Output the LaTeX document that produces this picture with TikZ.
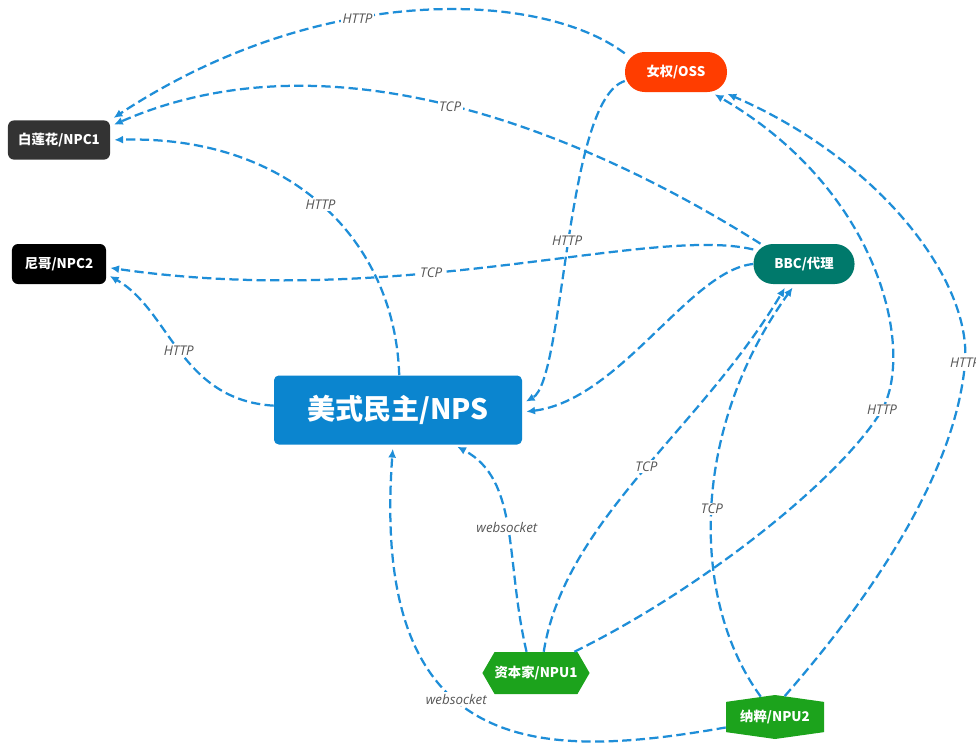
\documentclass[tikz,border=0pt]{standalone}
\usepackage{fontspec}
\newfontfamily\cjk{Noto Sans CJK SC}
\newfontfamily\lblfont{Open Sans}
\usetikzlibrary{arrows.meta,shapes.symbols}
\definecolor{linkblue}{RGB}{30,142,216}
\definecolor{ossred}{RGB}{255,61,0}
\definecolor{npcgray}{RGB}{51,51,51}
\definecolor{npsblue}{RGB}{11,133,207}
\definecolor{bbcteal}{RGB}{0,121,107}
\definecolor{npugreen}{RGB}{28,163,28}
\definecolor{lblgray}{RGB}{85,85,85}
\begin{document}
\begin{tikzpicture}[x=0.25mm, y=-0.25mm,
  box/.style={text=white, font=\cjk\bfseries\fontsize{9.5}{11}\selectfont, inner sep=0pt},
  pill/.style={box, rounded corners=4.9mm, minimum width=25.5mm, minimum height=10mm},
  npc/.style={box, rounded corners=1.5mm, minimum height=9.8mm},
  npu/.style={box, signal},
  link/.style={draw=linkblue, line width=1.6pt, dash pattern=on 2.3mm off 1.1mm, -{Latex[length=2.2mm,width=2mm]}, shorten >=1mm},
  lbl/.style={font=\lblfont\itshape\fontsize{9.5}{11}\selectfont, text=lblgray, fill=white, inner sep=1pt}]
\useasboundingbox (0,0) rectangle (976,746);
\fill[white] (0,0) rectangle (976,746);
\node[pill, fill=ossred] (oss) at (676,72) {女权/OSS};
\node[npc, fill=npcgray, minimum width=25.5mm] (npc1) at (59,140) {白莲花/NPC1};
\node[npc, fill=black, minimum width=23.5mm, minimum height=10mm] (npc2) at (59,264) {尼哥/NPC2};
\node[box, fill=npsblue, rounded corners=1.2mm, minimum width=62mm, minimum height=17.25mm, font=\cjk\bfseries\fontsize{20}{24}\selectfont] (nps) at (398,410) {美式民主/NPS};
\node[pill, fill=bbcteal, minimum width=25.25mm] (bbc) at (804,264) {BBC/代理};
\node[npu, fill=npugreen, signal to=east and west, signal pointer angle=120, minimum width=25.75mm, minimum height=10.5mm] (npu1) at (536,673) {资本家/NPU1};
\node[npu, fill=npugreen, signal to=north and south, signal pointer angle=164, minimum width=24.5mm, minimum height=10mm] (npu2) at (775,717) {纳粹/NPU2};
\draw[link] (oss.160) .. controls (540,-10) and (320,-18) .. node[lbl, pos=0.6] {HTTP} (npc1.north east);
\draw[link] (bbc.155) .. controls (580,130) and (330,30) .. node[lbl, pos=0.5] {TCP} (npc1.15);
\draw[link] (nps.88) .. controls (395,240) and (290,135) .. node[lbl, pos=0.5] {HTTP} (npc1.east);
\draw[link] (bbc.164) .. controls (650,225) and (400,310) .. node[lbl, pos=0.6] {TCP} (npc2.-4);
\draw[link] (nps.178) .. controls (180,400) and (170,310) .. node[lbl, pos=0.5] {HTTP} (npc2.-12);
\draw[link] (oss.190) .. controls (565,100) and (565,380) .. node[lbl, pos=0.5] {HTTP} (nps.3);
\draw[link] (bbc.west) .. controls (690,270) and (620,400) .. (nps.-1);
\draw[link] (npu1.70) .. controls (565,520) and (700,430) .. node[lbl, pos=0.52] {TCP} (bbc.-130);
\draw[link] (npu2.125) .. controls (690,600) and (690,430) .. node[lbl, pos=0.5] {TCP} (bbc.-114);
\draw[link] (npu1.29) .. controls (700,590) and (840,480) .. (882,410) node[lbl] {HTTP} .. controls (915,350) and (880,190) .. (oss.-30);
\draw[link] (npu2.65) .. controls (860,610) and (955,480) .. (965,363) node[lbl] {HTTP} .. controls (972,281) and (880,160) .. (oss.-23);
\draw[link] (npu1.114) .. controls (505,560) and (520,480) .. node[lbl, pos=0.5] {websocket} (nps.-32);
\draw[link] (npu2.192) .. controls (540,760) and (370,760) .. node[lbl, pos=0.57] {websocket} (nps.-98);
\end{tikzpicture}
\end{document}
